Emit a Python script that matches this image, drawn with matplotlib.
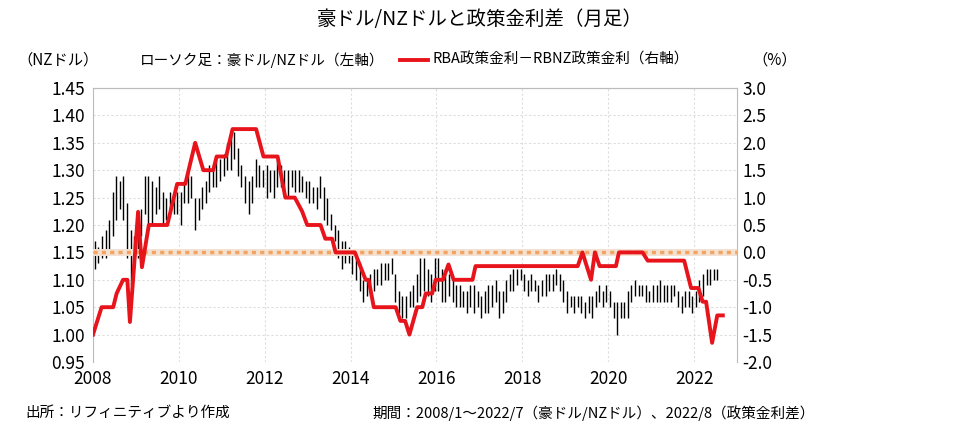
import numpy as np
import matplotlib.pyplot as plt

plt.rcParams["font.family"] = "Noto Sans CJK JP"

# monthly high / low, AUD/NZD, 2008/1 - 2022/7
lows = [
    1.12, 1.13, 1.14, 1.14, 1.15, 1.18, 1.21, 1.23, 1.21, 1.14, 1.09, 1.12,
    1.14, 1.18, 1.22, 1.20, 1.20, 1.22, 1.23, 1.20, 1.21, 1.23, 1.22, 1.22,
    1.20, 1.24, 1.24, 1.25, 1.19, 1.21, 1.23, 1.24, 1.26, 1.27, 1.27, 1.28,
    1.29, 1.30, 1.30, 1.32, 1.29, 1.27, 1.24, 1.22, 1.24, 1.27, 1.27, 1.27,
    1.25, 1.26, 1.25, 1.27, 1.27, 1.26, 1.25, 1.27, 1.26, 1.26, 1.26, 1.25,
    1.24, 1.24, 1.23, 1.25, 1.21, 1.20, 1.19, 1.17, 1.14, 1.12, 1.13, 1.13,
    1.11, 1.10, 1.08, 1.06, 1.07, 1.08, 1.08, 1.09, 1.09, 1.10, 1.10, 1.11,
    1.06, 1.04, 1.03, 1.03, 1.05, 1.05, 1.06, 1.07, 1.08, 1.07, 1.06, 1.08,
    1.08, 1.06, 1.06, 1.07, 1.06, 1.05, 1.05, 1.05, 1.04, 1.05, 1.04, 1.05,
    1.03, 1.04, 1.04, 1.05, 1.06, 1.03, 1.04, 1.06, 1.08, 1.08, 1.09, 1.10,
    1.08, 1.07, 1.08, 1.08, 1.06, 1.07, 1.07, 1.08, 1.08, 1.09, 1.08, 1.06,
    1.04, 1.05, 1.04, 1.05, 1.04, 1.03, 1.04, 1.03, 1.05, 1.06, 1.05, 1.06,
    1.05, 1.03, 1.00, 1.03, 1.03, 1.03, 1.06, 1.07, 1.07, 1.07, 1.06, 1.06,
    1.06, 1.06, 1.06, 1.06, 1.06, 1.06, 1.07, 1.05, 1.04, 1.05, 1.05, 1.04,
    1.05, 1.06, 1.07, 1.09, 1.09, 1.10, 1.10,
]
highs = [
    1.17, 1.16, 1.18, 1.19, 1.21, 1.26, 1.29, 1.28, 1.29, 1.24, 1.19, 1.18,
    1.20, 1.23, 1.29, 1.29, 1.28, 1.27, 1.29, 1.26, 1.25, 1.26, 1.25, 1.26,
    1.26, 1.28, 1.30, 1.29, 1.25, 1.25, 1.27, 1.28, 1.31, 1.31, 1.32, 1.32,
    1.33, 1.35, 1.37, 1.37, 1.34, 1.31, 1.29, 1.28, 1.29, 1.32, 1.31, 1.30,
    1.31, 1.30, 1.30, 1.32, 1.31, 1.30, 1.30, 1.30, 1.30, 1.30, 1.29, 1.28,
    1.28, 1.27, 1.27, 1.29, 1.27, 1.25, 1.22, 1.20, 1.19, 1.17, 1.17, 1.16,
    1.15, 1.14, 1.13, 1.10, 1.10, 1.11, 1.12, 1.12, 1.13, 1.13, 1.13, 1.14,
    1.11, 1.08, 1.07, 1.07, 1.08, 1.09, 1.11, 1.14, 1.14, 1.12, 1.11, 1.14,
    1.14, 1.12, 1.12, 1.11, 1.10, 1.09, 1.09, 1.08, 1.08, 1.09, 1.09, 1.08,
    1.07, 1.08, 1.09, 1.09, 1.10, 1.08, 1.08, 1.10, 1.11, 1.12, 1.12, 1.12,
    1.11, 1.10, 1.11, 1.10, 1.09, 1.10, 1.11, 1.11, 1.11, 1.12, 1.11, 1.10,
    1.08, 1.07, 1.07, 1.07, 1.07, 1.06, 1.07, 1.07, 1.08, 1.09, 1.08, 1.09,
    1.08, 1.06, 1.06, 1.06, 1.06, 1.08, 1.09, 1.10, 1.09, 1.09, 1.09, 1.08,
    1.09, 1.09, 1.10, 1.09, 1.09, 1.09, 1.09, 1.08, 1.07, 1.08, 1.08, 1.07,
    1.08, 1.10, 1.11, 1.12, 1.12, 1.12, 1.12,
]

# RBA - RBNZ policy rate spread (%), breakpoints
spread_t = [2008.0, 2008.2, 2008.47, 2008.55, 2008.7, 2008.8, 2008.86, 2009.05, 2009.14,
            2009.3, 2009.73, 2009.96, 2010.15, 2010.38, 2010.57, 2010.8, 2010.88, 2011.1,
            2011.25, 2011.8, 2011.97, 2012.3, 2012.48, 2012.7, 2012.87, 2012.99, 2013.3,
            2013.41, 2013.57, 2013.65, 2014.1, 2014.35, 2014.42, 2014.54, 2015.05, 2015.16,
            2015.27, 2015.37, 2015.55, 2015.67, 2015.75, 2015.9, 2015.98, 2016.15, 2016.28,
            2016.4, 2016.84, 2016.91, 2019.29, 2019.4, 2019.6, 2019.69, 2019.8, 2020.18,
            2020.25, 2020.8, 2020.92, 2021.77, 2021.93, 2022.1, 2022.2, 2022.28, 2022.42,
            2022.54, 2022.67]
spread_v = [-1.5, -1.0, -1.0, -0.75, -0.5, -0.5, -1.27, 0.74, -0.27,
            0.5, 0.5, 1.25, 1.25, 2.0, 1.5, 1.5, 1.75, 1.75,
            2.25, 2.25, 1.75, 1.75, 1.0, 1.0, 0.75, 0.5, 0.5,
            0.25, 0.25, 0.0, 0.0, -0.5, -0.5, -1.0, -1.0, -1.25,
            -1.25, -1.5, -1.0, -1.0, -0.75, -0.75, -0.5, -0.5, -0.22,
            -0.5, -0.5, -0.25, -0.25, 0.0, -0.5, 0.0, -0.25, -0.25,
            0.0, 0.0, -0.15, -0.15, -0.65, -0.65, -0.9, -0.9, -1.65,
            -1.15, -1.15]

months = 2008 + (np.arange(len(lows)) + 0.5) / 12

fig = plt.figure(figsize=(9.59, 4.36), dpi=100)
ax = fig.add_axes([93 / 959, 1 - 362 / 436, 644 / 959, 274 / 436])
ax2 = ax.twinx()

ax.vlines(months, lows, highs, color="black", lw=1.0, zorder=3)
ax.set_xlim(2008, 2023)
ax.set_ylim(0.95, 1.45)
ax.set_yticks(np.arange(0.95, 1.451, 0.05))
ax.set_yticklabels([f"{v:.2f}" for v in np.arange(0.95, 1.451, 0.05)])
ax.set_xticks(range(2008, 2023, 2))
ax.grid(True, color="#dddddd", ls=(0, (2, 2)), lw=0.8)

ax2.set_ylim(-2.0, 3.0)
ax2.set_yticks(np.arange(-2.0, 3.01, 0.5))
ax2.set_yticklabels([f"{v:.1f}" for v in np.arange(-2.0, 3.01, 0.5)])
ax2.axhline(0, color="#f3e2d2", lw=5, zorder=1)
ax2.axhline(0, color="#f4a460", lw=2.5, ls=(0, (1.2, 1.2)), zorder=2)
ax2.plot(spread_t, spread_v, color="#e8141c", lw=2.8, zorder=4)

for a in (ax, ax2):
    for s in ("left", "right", "bottom"):
        a.spines[s].set_visible(False)
    a.spines["top"].set_color("#bbbbbb")
    a.tick_params(length=0, labelsize=12.5, pad=6)
ax.spines["left"].set_visible(True)
ax.spines["left"].set_color("#bbbbbb")
ax2.spines["right"].set_visible(True)
ax2.spines["right"].set_color("#bbbbbb")
ax2.tick_params(pad=4)

fig.text(0.5, 1 - 20 / 436, "豪ドル/NZドルと政策金利差（月足）", ha="center", va="center",
         fontsize=14)
fig.text(58 / 959, 1 - 60 / 436, "（NZドル）", ha="center", va="center", fontsize=11)
fig.text(775 / 959, 1 - 60 / 436, "（%）", ha="center", va="center", fontsize=11)
fig.text(140 / 959, 1 - 60 / 436, "ローソク足：豪ドル/NZドル（左軸）", va="center", fontsize=10.5)
fig.lines.append(plt.Line2D([400 / 959, 428 / 959], [1 - 60 / 436] * 2, color="#e8141c",
                            lw=2.8, transform=fig.transFigure))
fig.text(433 / 959, 1 - 60 / 436, "RBA政策金利－RBNZ政策金利（右軸）", va="center", fontsize=10.5)
fig.text(25 / 959, 1 - 413 / 436, "出所：リフィニティブより作成", va="center", fontsize=10.5)
fig.text(372 / 959, 1 - 413 / 436, "期間：2008/1～2022/7（豪ドル/NZドル）、2022/8（政策金利差）",
         va="center", fontsize=10.5)

fig.savefig("out.png", dpi=100)
